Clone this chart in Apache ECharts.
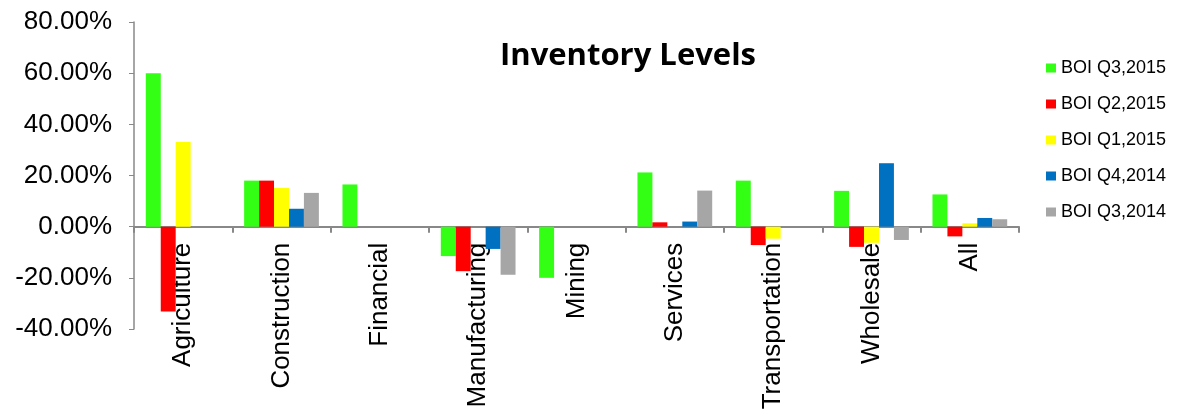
<!DOCTYPE html>
<html>
<head>
<meta charset="utf-8">
<script src="https://cdn.jsdelivr.net/npm/echarts@6/dist/echarts.min.js"></script>
<style>
  html, body { margin: 0; padding: 0; background: #fff; }
  #chart { width: 1183px; height: 415px; }
</style>
</head>
<body>
<div id="chart"></div>
<script>
// Categories and series values (percent)
const categories = ['Agriculture', 'Construction', 'Financial', 'Manufacturing', 'Mining',
  'Services', 'Transportation', 'Wholesale', 'All'];
const seriesNames = ['BOI Q3,2015', 'BOI Q2,2015', 'BOI Q1,2015', 'BOI Q4,2014', 'BOI Q3,2014'];
const q3_2015 = [60.0, 18.0, 16.5, -11.5, -20.0, 21.2, 18.0, 14.0, 12.6];
const q2_2015 = [-33.2, 18.0, null, -17.4, null, 1.7, -7.2, -7.9, -3.8];
const q1_2015 = [33.1, 15.1, null, null, null, null, -4.7, -6.3, 1.3];
const q4_2014 = [null, 7.0, null, -8.7, null, 2.0, null, 24.8, 3.4];
const q3_2014 = [null, 13.2, null, -18.8, null, 14.1, null, -5.2, 2.9];
const yTicks = { min: -40, max: 80, interval: 20 };

const seriesValues = [q3_2015, q2_2015, q1_2015, q4_2014, q3_2014];
const colors = ['#33FF14', '#FF0000', '#FFFF00', '#0070C0', '#A6A6A6'];

// grid box in px; category axis sits on the zero line
const gridTop = 22, gridBottom = 86;
const gridHeight = 415 - gridTop - gridBottom;
const zeroOffset = gridHeight * (0 - yTicks.min) / (yTicks.max - yTicks.min);

const chart = echarts.init(document.getElementById('chart'));

const option = {
  animation: false,
  backgroundColor: '#ffffff',
  title: {
    text: 'Inventory Levels',
    left: 623,
    textAlign: 'center',
    top: 36,
    textStyle: { fontFamily: 'Open Sans', fontWeight: 'bold', fontSize: 31, color: '#000' }
  },
  legend: {
    orient: 'vertical',
    left: 1041,
    top: 54,
    itemWidth: 10,
    itemHeight: 9,
    itemGap: 18,
    icon: 'rect',
    textStyle: { fontFamily: 'Liberation Sans', fontSize: 18, color: '#000' },
    data: seriesNames
  },
  grid: { left: 134, right: 164, top: gridTop, bottom: gridBottom, outerBoundsMode: 'none' },
  xAxis: {
    type: 'category',
    data: categories,
    offset: -zeroOffset,
    axisLine: { onZero: false, lineStyle: { color: '#888888', width: 2 } },
    axisTick: { show: true, length: 6, lineStyle: { color: '#888888', width: 2 } },
    axisLabel: {
      rotate: 90,
      margin: 16,
      fontFamily: 'Liberation Sans',
      fontSize: 26,
      color: '#000'
    },
    splitLine: { show: false }
  },
  yAxis: {
    type: 'value',
    min: yTicks.min,
    max: yTicks.max,
    interval: yTicks.interval,
    axisLine: { show: true, lineStyle: { color: '#888888', width: 1.5 } },
    axisTick: { show: true, length: 5, lineStyle: { color: '#888888' } },
    axisLabel: {
      margin: 22,
      fontFamily: 'Liberation Sans',
      fontSize: 26,
      color: '#000',
      formatter: (v) => v.toFixed(2) + '%'
    },
    splitLine: { show: false }
  },
  series: seriesNames.map((name, i) => ({
    name,
    type: 'bar',
    data: seriesValues[i],
    barGap: '0%',
    barCategoryGap: '24%',
    itemStyle: { color: colors[i] }
  }))
};

chart.setOption(option);
</script>
</body>
</html>
